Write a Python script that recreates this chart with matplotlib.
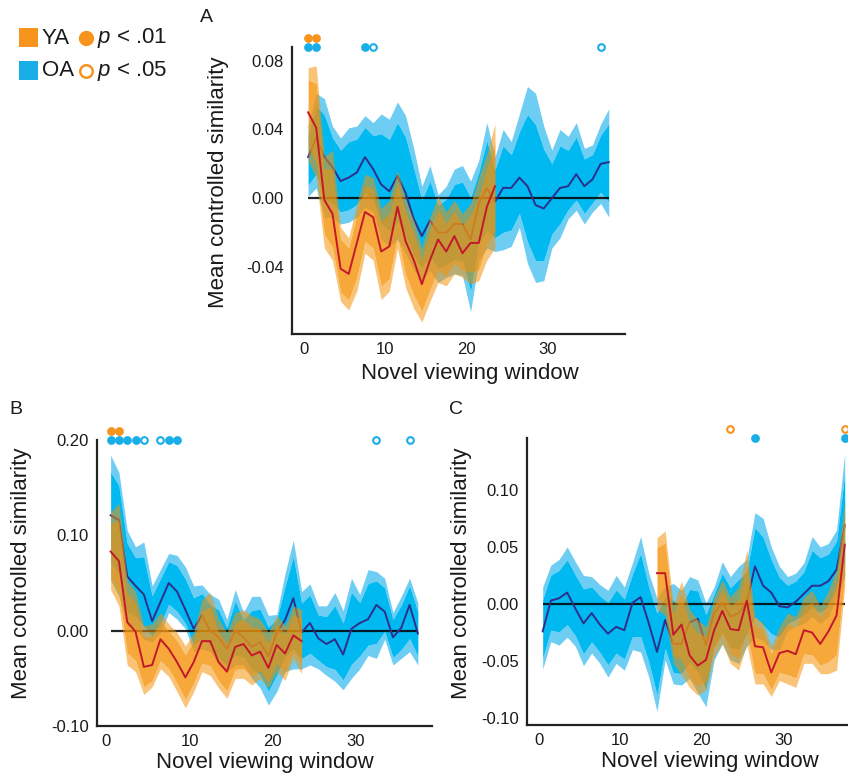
import numpy as np
import matplotlib
matplotlib.use("Agg")
import matplotlib.pyplot as plt
from matplotlib.patches import Rectangle
from matplotlib.ticker import FormatStrFormatter

plt.rcParams["font.family"] = ["Liberation Sans", "DejaVu Sans"]
plt.rcParams["mathtext.fontset"] = "custom"
plt.rcParams["mathtext.it"] = "Liberation Sans:italic"
plt.rcParams["mathtext.rm"] = "Liberation Sans"

# novel viewing windows 1..38 (plotted at window centres)
windows = np.arange(1, 39)

# ---- panel A ----
a_oa_mean = [0.024, 0.035, 0.024, 0.018, 0.010, 0.012, 0.015, 0.024, 0.017, 0.008,
             0.004, 0.013, 0.003, -0.012, -0.022, -0.013, -0.020, -0.020, -0.015, -0.015,
             -0.024, -0.003, 0.006, -0.002, 0.006, 0.006, 0.012, 0.007, -0.004, -0.006,
             0.000, 0.006, 0.007, 0.014, 0.007, 0.011, 0.020, 0.021]
a_oa_hi = [0.042, 0.061, 0.058, 0.042, 0.035, 0.041, 0.042, 0.048, 0.044, 0.049,
           0.046, 0.056, 0.048, 0.029, 0.007, 0.019, 0.002, 0.007, 0.017, 0.019,
           0.010, 0.022, 0.044, 0.024, 0.040, 0.033, 0.049, 0.065, 0.061, 0.042,
           0.028, 0.040, 0.036, 0.044, 0.029, 0.031, 0.043, 0.052]
a_oa_lo = [0.001, 0.006, -0.011, -0.011, -0.015, -0.014, -0.011, -0.005, -0.008, -0.024,
           -0.028, -0.024, -0.032, -0.042, -0.048, -0.042, -0.049, -0.046, -0.044, -0.045,
           -0.066, -0.036, -0.029, -0.031, -0.030, -0.028, -0.017, -0.038, -0.049, -0.048,
           -0.029, -0.023, -0.012, -0.007, -0.015, -0.008, -0.003, -0.011]
a_ya_first = 1
a_ya_mean = [0.050, 0.041, -0.001, -0.009, -0.041, -0.044, -0.026, -0.008, -0.011, -0.031,
             -0.028, -0.005, -0.025, -0.036, -0.050, -0.036, -0.024, -0.031, -0.022, -0.032,
             -0.026, -0.026, -0.005, 0.007]
a_ya_hi = [0.076, 0.077, 0.024, 0.028, -0.017, -0.023, -0.003, 0.014, 0.012, -0.006,
           -0.001, 0.016, -0.001, -0.013, -0.029, -0.011, 0.001, -0.008, -0.001, -0.009,
           -0.003, 0.012, 0.026, 0.043]
a_ya_lo = [0.022, 0.012, -0.029, -0.036, -0.060, -0.065, -0.054, -0.032, -0.036, -0.059,
           -0.054, -0.029, -0.052, -0.064, -0.072, -0.060, -0.049, -0.051, -0.044, -0.046,
           -0.050, -0.048, -0.036, -0.029]
a_sig = {"ya01": [1, 2], "ya05": [], "oa01": [1, 2, 8], "oa05": [9, 37]}

# ---- panel B ----
b_oa_mean = [0.121, 0.116, 0.057, 0.047, 0.038, 0.010, 0.030, 0.050, 0.041, 0.022,
             0.002, 0.016, 0.000, -0.007, -0.019, 0.000, -0.007, -0.017, -0.012, -0.027,
             -0.002, 0.011, 0.034, -0.002, 0.008, -0.008, -0.014, -0.009, -0.025, 0.002,
             0.008, 0.012, 0.027, 0.020, -0.007, 0.003, 0.027, -0.003]
b_oa_hi = [0.184, 0.166, 0.105, 0.088, 0.093, 0.047, 0.064, 0.081, 0.079, 0.067,
           0.047, 0.048, 0.038, 0.033, 0.012, 0.043, 0.019, 0.036, 0.036, 0.016,
           0.017, 0.060, 0.095, 0.041, 0.049, 0.026, 0.026, 0.040, 0.021, 0.055,
           0.038, 0.064, 0.062, 0.055, 0.019, 0.036, 0.055, 0.029]
b_oa_lo = [0.053, 0.036, 0.005, 0.002, -0.009, -0.012, -0.002, 0.019, 0.012, 0.002,
           -0.022, -0.019, -0.022, -0.036, -0.043, -0.036, -0.036, -0.050, -0.060, -0.078,
           -0.064, -0.043, -0.040, -0.040, -0.036, -0.040, -0.047, -0.053, -0.062, -0.050,
           -0.040, -0.026, -0.029, -0.009, -0.036, -0.029, -0.022, -0.036]
b_ya_first = 1
b_ya_mean = [0.083, 0.073, 0.009, -0.001, -0.038, -0.036, -0.009, -0.019, -0.033, -0.049,
             -0.033, -0.011, -0.011, -0.033, -0.043, -0.017, -0.014, -0.026, -0.022, -0.039,
             -0.015, -0.024, -0.005, -0.011]
b_ya_hi = [0.124, 0.134, 0.053, 0.041, 0.005, 0.007, 0.019, 0.007, -0.002, -0.016,
           -0.002, 0.033, 0.040, 0.012, -0.002, 0.019, 0.022, 0.016, 0.012, -0.002,
           0.016, 0.005, 0.026, 0.022]
b_ya_lo = [0.043, 0.026, -0.036, -0.043, -0.067, -0.059, -0.040, -0.048, -0.064, -0.081,
           -0.064, -0.043, -0.047, -0.060, -0.071, -0.050, -0.050, -0.057, -0.050, -0.060,
           -0.043, -0.052, -0.029, -0.045]
b_sig = {"ya01": [1, 2], "ya05": [], "oa01": [1, 2, 3, 4, 8, 9], "oa05": [5, 7, 33, 37]}

# ---- panel C ----
c_oa_mean = [-0.024, 0.003, 0.005, 0.010, -0.004, -0.017, -0.008, -0.018, -0.026, -0.020,
             -0.023, 0.001, 0.006, -0.017, -0.042, -0.014, -0.035, -0.035, -0.016, -0.013,
             -0.036, -0.008, 0.001, -0.011, -0.008, 0.001, 0.033, 0.016, 0.010, -0.002,
             -0.003, 0.002, 0.009, 0.016, 0.016, 0.020, 0.030, 0.069]
c_oa_hi = [0.015, 0.034, 0.039, 0.050, 0.037, 0.025, 0.024, 0.017, 0.012, 0.025,
           0.015, 0.036, 0.059, 0.027, 0.005, 0.015, 0.018, 0.012, 0.024, 0.021,
           0.001, 0.015, 0.037, 0.024, 0.033, 0.039, 0.080, 0.075, 0.050, 0.033,
           0.024, 0.027, 0.036, 0.059, 0.050, 0.053, 0.065, 0.132]
c_oa_lo = [-0.057, -0.033, -0.036, -0.029, -0.037, -0.054, -0.043, -0.052, -0.064, -0.052,
           -0.058, -0.040, -0.042, -0.064, -0.094, -0.049, -0.070, -0.071, -0.065, -0.078,
           -0.090, -0.049, -0.035, -0.049, -0.052, -0.037, -0.029, -0.032, -0.040, -0.040,
           -0.023, -0.020, -0.017, -0.011, -0.017, -0.011, 0.006, 0.024]
c_ya_first = 15
c_ya_mean = [0.027, 0.027, -0.027, -0.018, -0.045, -0.054, -0.049, -0.023, -0.006, -0.022,
             -0.023, 0.003, -0.037, -0.038, -0.060, -0.043, -0.041, -0.044, -0.023, -0.025,
             -0.035, -0.024, -0.010, 0.052]
c_ya_hi = [0.058, 0.064, -0.001, 0.020, -0.005, -0.014, -0.020, 0.006, 0.021, 0.006,
           0.015, 0.047, -0.011, -0.017, -0.037, -0.020, -0.008, -0.011, 0.006, 0.012,
           -0.002, 0.012, 0.030, 0.090]
c_ya_lo = [-0.005, -0.010, -0.052, -0.062, -0.073, -0.080, -0.075, -0.046, -0.035, -0.052,
           -0.058, -0.035, -0.070, -0.070, -0.081, -0.067, -0.070, -0.073, -0.052, -0.052,
           -0.061, -0.061, -0.058, 0.015]
c_sig = {"ya01": [], "ya05": [24, 38], "oa01": [27, 38], "oa05": []}

OA_OUT = "#6DCDF3"
OA_IN = "#00B9F1"
OA_LINE = "#2E2F8C"
OA_DOT = "#1AAEE8"
YA_BAND = "#F5920A"
YA_LINE = "#C4172C"
YA_DOT = "#F7941D"
INNER = 0.72  # inner band spans this share of the outer interval


def bands(ax, x, mean, lo, hi, c_out, c_in, alpha_out, alpha_in, z):
    mean, lo, hi = np.asarray(mean), np.asarray(lo), np.asarray(hi)
    ilo = mean - INNER * (mean - lo)
    ihi = mean + INNER * (hi - mean)
    ax.fill_between(x, ihi, hi, color=c_out, alpha=alpha_out, lw=0, zorder=z)
    ax.fill_between(x, lo, ilo, color=c_out, alpha=alpha_out, lw=0, zorder=z)
    ax.fill_between(x, ilo, ihi, color=c_in, alpha=alpha_in, lw=0, zorder=z)


def panel(ax, oa, ya, ya_first, sig, xlim, ylim, yticks):
    x = windows - 0.5
    oa_mean, oa_lo, oa_hi = oa
    bands(ax, x, oa_mean, oa_lo, oa_hi, OA_OUT, OA_IN, 1.0, 1.0, 1)
    ax.hlines(0, x[0], x[-1], color="black", lw=1.6, alpha=0.85, zorder=2)
    ax.plot(x, oa_mean, color=OA_LINE, lw=1.4, zorder=3)

    ya_mean, ya_lo, ya_hi = ya
    xy = np.arange(ya_first, ya_first + len(ya_mean)) - 0.5
    bands(ax, xy, ya_mean, ya_lo, ya_hi, YA_BAND, YA_BAND, 0.55, 0.8, 4)
    ax.plot(xy, ya_mean, color=YA_LINE, lw=1.4, zorder=5)

    h = ax.get_position().height * 776
    tr = ax.get_xaxis_transform()
    rows = [("oa01", OA_DOT, True, 1.0), ("oa05", OA_DOT, False, 1.0),
            ("ya01", YA_DOT, True, 1.0 + 9.5 / h), ("ya05", YA_DOT, False, 1.0 + 9.5 / h)]
    for key, col, filled, yrow in rows:
        w = np.asarray(sig[key], dtype=float) - 0.5
        if len(w) == 0:
            continue
        ax.plot(w, np.full(len(w), yrow), "o", transform=tr, clip_on=False, ms=4.8,
                mfc=col if filled else "white", mec=col, mew=1.5, zorder=6)

    ax.set_xlim(*xlim)
    ax.set_ylim(*ylim)
    ax.set_xticks([0, 10, 20, 30])
    ax.set_yticks(yticks)
    ax.yaxis.set_major_formatter(FormatStrFormatter("%.2f"))
    ax.tick_params(length=0, labelsize=12, pad=6, colors="#1a1a1a")
    for s in ["top", "right"]:
        ax.spines[s].set_visible(False)
    for s in ["left", "bottom"]:
        ax.spines[s].set_linewidth(1.6)
        ax.spines[s].set_color("#222222")
    ax.set_xlabel("Novel viewing window", fontsize=16, color="#1a1a1a")
    ax.set_ylabel("Mean controlled similarity", fontsize=16, color="#1a1a1a")


fig = plt.figure(figsize=(8.48, 7.76), dpi=100, facecolor="white")

ax_a = fig.add_axes([292 / 848, 442 / 776, 333 / 848, 287 / 776])
panel(ax_a, (a_oa_mean, a_oa_lo, a_oa_hi), (a_ya_mean, a_ya_lo, a_ya_hi), a_ya_first,
      a_sig, (-1.48, 39.5), (-0.079, 0.088), [-0.04, 0.0, 0.04, 0.08])
ax_a.yaxis.set_label_coords(-0.19, 0.53)
ax_a.xaxis.set_label_coords(0.535, -0.1)

ax_b = fig.add_axes([97 / 848, 50 / 776, 335 / 848, 286 / 776])
panel(ax_b, (b_oa_mean, b_oa_lo, b_oa_hi), (b_ya_mean, b_ya_lo, b_ya_hi), b_ya_first,
      b_sig, (-1.14, 39.2), (-0.0975, 0.198), [-0.10, 0.0, 0.10, 0.20])
ax_b.yaxis.set_label_coords(-0.195, 0.535)
ax_b.xaxis.set_label_coords(0.5, -0.09)

ax_c = fig.add_axes([527 / 848, 51 / 776, 321 / 848, 287 / 776])
panel(ax_c, (c_oa_mean, c_oa_lo, c_oa_hi), (c_ya_mean, c_ya_lo, c_ya_hi), c_ya_first,
      c_sig, (-1.42, 37.9), (-0.106, 0.1454), [-0.10, -0.05, 0.0, 0.05, 0.10])
ax_c.yaxis.set_label_coords(-0.17, 0.53)
ax_c.xaxis.set_label_coords(0.57, -0.09)

fig.text(200 / 848, 1 - 18 / 776, "A", fontsize=14, va="center", color="#1a1a1a")
fig.text(9 / 848, 1 - 410 / 776, "B", fontsize=14, va="center", color="#1a1a1a")
fig.text(449 / 848, 1 - 410 / 776, "C", fontsize=14, va="center", color="#1a1a1a")

# legend (pixel coordinates, origin top-left)
lg = fig.add_axes([0, 0, 1, 1], zorder=-1)
lg.set_xlim(0, 848)
lg.set_ylim(776, 0)
lg.axis("off")
lg.add_patch(Rectangle((19, 28), 19, 19, color=YA_DOT, lw=0))
lg.add_patch(Rectangle((19, 61), 19, 19, color=OA_DOT, lw=0))
lg.text(42, 38, "YA", fontsize=16, va="center", color="#1a1a1a")
lg.text(42, 71, "OA", fontsize=16, va="center", color="#1a1a1a")
lg.plot([86], [38], "o", ms=10, color=YA_DOT)
lg.plot([86], [71], "o", ms=9, mfc="white", mec=YA_DOT, mew=1.8)
lg.text(97, 38, r"$p$ < .01", fontsize=16, va="center", color="#1a1a1a")
lg.text(97, 71, r"$p$ < .05", fontsize=16, va="center", color="#1a1a1a")

fig.savefig("out.png", dpi=100, facecolor="white")
